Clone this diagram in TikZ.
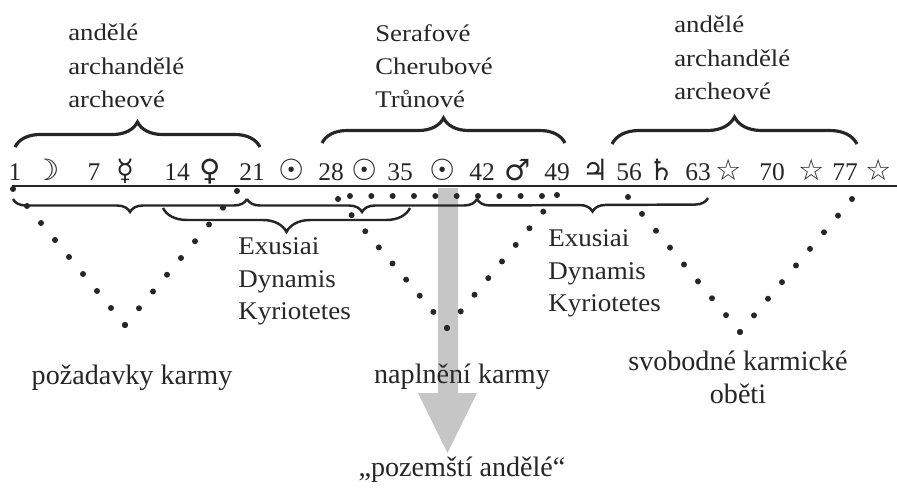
\documentclass[tikz,border=0pt]{standalone}
\usepackage{fontspec}
\setmainfont{Liberation Serif}
\newfontfamily\topfont[FakeStretch=1.12]{Liberation Serif}
\newfontfamily\exfont[FakeStretch=1.06]{Liberation Serif}
\newfontfamily\symfont[Scale=1.15]{DejaVu Sans}
\usetikzlibrary{calc, decorations.pathreplacing}

\begin{document}
\begin{tikzpicture}[x=0.02cm, y=-0.02cm,
  every node/.style={font=\fontsize{14.5}{19}\selectfont, text=black!85, inner sep=0pt},
  lbl/.style={align=left, anchor=north west},
  toplbl/.style={lbl, font=\topfont\fontsize{13.6}{19}\selectfont},
  exlbl/.style={lbl, font=\exfont\fontsize{14.5}{18.4}\selectfont},
  botlbl/.style={font=\fontsize{16}{18.7}\selectfont},
  upbrace/.style={decorate, decoration={brace, amplitude=#1}, line width=1.8pt, black!85},
  downbrace/.style={decorate, decoration={brace, mirror, amplitude=#1}, line width=1.4pt, black!85}]
\useasboundingbox (0,0) rectangle (897,488);

% grey arrow behind everything
\fill[gray!45] (438,188) -- (458,188) -- (458,393) -- (477,393) -- (447.5,453)
  -- (418,393) -- (438,393) -- cycle;

% upper labels and braces
\node[toplbl] (angl) at (68,24) {andělé\\archandělé\\archeové};
\node[toplbl] (sera) at (375,24) {Serafové\\Cherubové\\Trůnové};
\node[toplbl] (angr) at (674,16) {andělé\\archandělé\\archeové};
\draw[upbrace=0.5cm] (15,147) -- (260,147);
\draw[upbrace=0.5cm] (322,143) -- (565,143);
\draw[upbrace=0.54cm] (612,144) -- (857,144);

% row of numbers and signs
\foreach \x/\t [count=\i] in {15/1, 47/{\symfont ☽}, 94/7, 125/{\symfont ☿}, 177/14,
    210/{\symfont ♀}, 252/21, 292/{\symfont ☉}, 331/28, 365/{\symfont ☉}, 400/35,
    443/{\symfont ☉}, 482/42, 518/{\symfont ♂}, 557/49, 596/{\symfont ♃}, 629/56,
    662/{\symfont ♄}, 698/63, 729/{\symfont ☆}, 772/70, 812/{\symfont ☆}, 845/77,
    879/{\symfont ☆}}
  \node[anchor=base] (r\i) at (\x,180) {\t};
\draw[line width=1.3pt, black!85] (12,186) -- (897,186);

% lower braces
\draw[downbrace=0.26cm] (13,199) -- (247,199);
\draw[downbrace=0.26cm] (247,199) -- (477,199);
\draw[downbrace=0.26cm] (477,199) -- (708,198);
\draw[downbrace=0.48cm] (163,208) -- (410,208);
\node[exlbl] (exl) at (238,237.5) {Exusiai\\Dynamis\\Kyriotetes};
\node[exlbl] (exr) at (548,229.5) {Exusiai\\Dynamis\\Kyriotetes};

% dotted V shapes
\coordinate (ka) at (13,189);
\coordinate (kb) at (125,325);
\coordinate (kc) at (237,191);
\coordinate (na) at (338,199);
\coordinate (nb) at (447,328);
\coordinate (nc) at (557,195);
\coordinate (nl) at (350,196);
\coordinate (nr) at (542,196);
\coordinate (sa) at (628,197);
\coordinate (sb) at (740,332);
\coordinate (sc) at (852,199);
\foreach \p/\q/\n in {ka/kb/8, kb/kc/8, na/nb/8, nb/nc/8, nl/nr/9, sa/sb/8, sb/sc/8}
  \foreach \i in {0,...,\n}
    \fill[black!85] ($(\p)!\i/\n!(\q)$) circle (1.7pt);

% lower labels
\node[botlbl, anchor=base] (poz) at (132,384) {požadavky karmy};
\node[botlbl, anchor=base] (napl) at (462,383) {naplnění karmy};
\node[botlbl, anchor=north, align=center] (svob) at (738,351) {svobodné karmické\\oběti};
\node[botlbl, anchor=base] (pozem) at (462,476) {„pozemští andělé“};
\end{tikzpicture}
\end{document}
